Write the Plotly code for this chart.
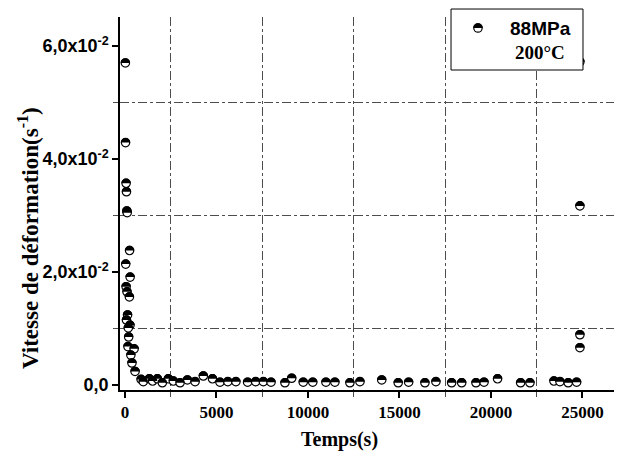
import plotly.graph_objects as go

# ---- data ----
temps = [20, 30, 60, 80, 100, 120, 250, 40, 280, 60, 110, 240, 140, 80, 270, 180,
         200, 160, 500, 320, 380, 550, 880,
         1000, 1330, 1510, 1770, 2040, 2370, 2640, 3010, 3410, 3830, 4280, 4780,
         5190, 5620, 6060, 6700, 7140, 7560, 7980, 8740, 9110, 9740, 10260, 10980,
         11470, 12290, 12840, 14030, 14930, 15500, 16390, 16990, 17850, 18400,
         19180, 19620, 20360, 21620, 22130, 23440, 23770, 24220, 24680,
         24860, 24860, 24860, 24860]
vitesse = [0.0570, 0.0429, 0.0357, 0.0342, 0.0308, 0.0305, 0.0238, 0.0214, 0.0191,
           0.0174, 0.0165, 0.0156, 0.0124, 0.0115, 0.0106, 0.0101,
           0.0085, 0.0068, 0.0064, 0.0053, 0.0039, 0.0024, 0.0010,
           0.0006, 0.0011, 0.0007, 0.0011, 0.0004, 0.0011, 0.0007, 0.0004, 0.0009,
           0.0006, 0.0016, 0.0011, 0.0005, 0.0006, 0.0006, 0.0005, 0.0006, 0.0006,
           0.0005, 0.0004, 0.0012, 0.0005, 0.0005, 0.0005, 0.0005, 0.0004, 0.0006,
           0.0009, 0.0004, 0.0005, 0.0004, 0.0006, 0.0004, 0.0004, 0.0004, 0.0005,
           0.0011, 0.0004, 0.0004, 0.0007, 0.0006, 0.0004, 0.0005,
           0.0572, 0.0317, 0.0089, 0.0066]

y_tickvals = [0, 0.02, 0.04, 0.06]
y_ticktext = ["0,0", "2,0x10<sup>-2</sup>", "4,0x10<sup>-2</sup>", "6,0x10<sup>-2</sup>"]
x_tickvals = [0, 5000, 10000, 15000, 20000, 25000]
x_ticktext = ["0", "5000", "10000", "15000", "20000", "25000"]
x_grid = [2500, 7500, 12500, 17500, 22500]
y_grid = [0.01, 0.03, 0.05]
legend_line1 = "88MPa"
legend_line2 = "200°C"
x_title = "Temps(s)"
y_title = "Vitesse de déformation(s<sup>-1</sup>)"

SANS = "Arial, Liberation Sans, sans-serif"
SERIF = "Times New Roman, Liberation Serif, serif"

# upper half disk (pixel units, y up)
R = 4.7
K = 0.5523 * R
HALF = (f"M {-R},0 C {-R},{K} {-K},{R} 0,{R} "
        f"C {K},{R} {R},{K} {R},0 Z")

fig = go.Figure()
fig.add_trace(go.Scatter(
    x=temps, y=vitesse, mode="markers", showlegend=False,
    marker=dict(symbol="circle", size=8.4, color="white",
                line=dict(color="black", width=1.2)),
))

shapes = []
for t, v in zip(temps, vitesse):
    shapes.append(dict(type="path", xref="x", yref="y",
                       xsizemode="pixel", ysizemode="pixel",
                       xanchor=t, yanchor=v, path=HALF,
                       fillcolor="black", line=dict(width=0), layer="above"))

# manual legend
shapes.append(dict(type="rect", xref="paper", yref="paper",
                   x0=0.6594, x1=0.9223, y0=0.8579, y1=1.0214,
                   fillcolor="white", line=dict(color="black", width=1), layer="above"))
shapes.append(dict(type="circle", xref="paper", yref="paper",
                   xsizemode="pixel", ysizemode="pixel",
                   xanchor=0.7131, yanchor=0.9705, x0=-4.2, x1=4.2, y0=-4.2, y1=4.2,
                   fillcolor="white", line=dict(color="black", width=1.2), layer="above"))
shapes.append(dict(type="path", xref="paper", yref="paper",
                   xsizemode="pixel", ysizemode="pixel",
                   xanchor=0.7131, yanchor=0.9705, path=HALF,
                   fillcolor="black", line=dict(width=0), layer="above"))

annotations = [
    dict(text=legend_line1, xref="paper", yref="paper", x=0.8367, y=0.968,
         showarrow=False, xanchor="center", yanchor="middle",
         font=dict(family=SANS, size=19, color="black", weight="bold")),
    dict(text=legend_line2, xref="paper", yref="paper", x=0.8367, y=0.906,
         showarrow=False, xanchor="center", yanchor="middle",
         font=dict(family=SERIF, size=19, color="black", weight="bold")),
    dict(text=x_title, xref="paper", yref="paper", x=0.438, y=-0.134,
         showarrow=False, xanchor="center", yanchor="middle",
         font=dict(family=SERIF, size=20, color="black", weight="bold")),
    dict(text=y_title, xref="paper", yref="paper", x=-0.181, y=0.408,
         showarrow=False, xanchor="center", yanchor="middle", textangle=-90,
         font=dict(family=SERIF, size=23, color="black", weight="bold")),
]

grid_style = dict(showgrid=True, gridcolor="#4d4d4d", griddash="dashdot", gridwidth=1,
                  ticks="outside", ticklen=5, tickcolor="#4d4d4d", tickwidth=1)

# the page body adds an 8 px margin, so the figure is sized to the visible area
fig.update_layout(
    width=614, height=450, autosize=False,
    margin=dict(l=112, r=0, t=9, b=68, autoexpand=False),
    plot_bgcolor="white", paper_bgcolor="white",
    shapes=shapes, annotations=annotations,
    xaxis=dict(
        range=[-273, 27160], showline=True, linecolor="black", linewidth=1.5,
        ticks="outside", ticklen=6, tickwidth=1.5, tickcolor="black",
        tickmode="array", tickvals=x_tickvals, ticktext=x_ticktext,
        tickfont=dict(family=SERIF, size=17, color="black", weight="bold"),
        showgrid=False, zeroline=False, automargin=False,
        minor=dict(tickmode="array", tickvals=x_grid, **grid_style),
    ),
    yaxis=dict(
        range=[-0.00088, 0.06513], showline=True, linecolor="black", linewidth=1.5,
        ticks="outside", ticklen=6, tickwidth=1.5, tickcolor="black",
        tickmode="array", tickvals=y_tickvals, ticktext=y_ticktext,
        tickfont=dict(family=SANS, size=18, color="black", weight="bold"),
        showgrid=False, zeroline=False, automargin=False,
        minor=dict(tickmode="array", tickvals=y_grid, **grid_style),
    ),
)

fig.write_html("out.html")
